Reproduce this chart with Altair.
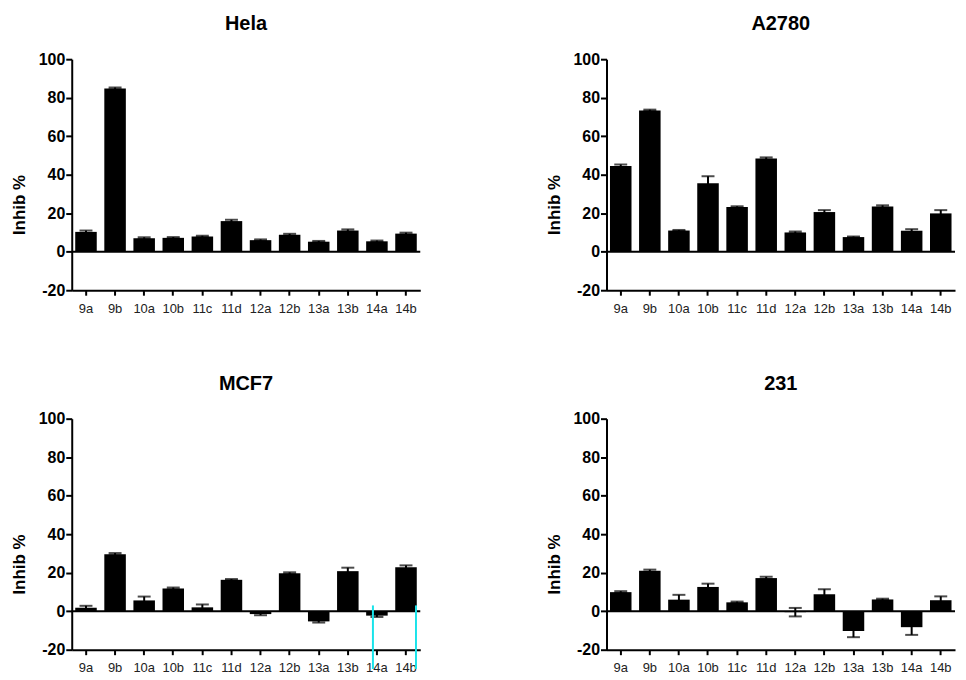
import altair as alt
import pandas as pd

categories = ["9a", "9b", "10a", "10b", "11c", "11d", "12a", "12b", "13a", "13b", "14a", "14b"]

hela_vals = [10.3, 84.8, 7.0, 7.2, 7.9, 15.9, 6.0, 8.8, 5.2, 11.0, 5.4, 9.4]
hela_errs = [0.7, 0.5, 0.5, 0.4, 0.4, 0.7, 0.4, 0.5, 0.4, 0.6, 0.4, 0.5]

a2780_vals = [44.5, 73.4, 11.0, 35.6, 23.2, 48.4, 10.0, 20.6, 7.6, 23.5, 10.9, 19.9]
a2780_errs = [0.8, 0.4, 0.3, 3.6, 0.4, 0.6, 0.5, 1.0, 0.3, 0.6, 0.8, 1.7]

mcf7_vals = [1.8, 29.6, 5.6, 11.8, 2.0, 16.3, -1.5, 19.7, -5.3, 20.8, -2.3, 22.8]
mcf7_errs = [1.0, 0.6, 2.0, 0.5, 1.5, 0.4, 0.6, 0.5, 0.6, 1.8, 0.7, 1.0]

mda231_vals = [9.9, 21.0, 6.0, 12.6, 4.6, 17.2, -0.5, 8.8, -10.3, 6.1, -8.3, 5.7]
mda231_errs = [0.5, 0.6, 2.5, 1.7, 0.4, 0.7, 2.2, 2.6, 3.2, 0.4, 4.0, 2.0]

y_ticks = [-20, 0, 20, 40, 60, 80, 100]

# screenshot artefact: two cyan vertical lines in the MCF7 panel
mcf7_marker_cats = ["14a", "14b"]
mcf7_marker_offsets = [-4, 10]

FONT = "Liberation Sans"

x_axis = alt.Axis(
    title=None,
    labelAngle=0,
    labelFont=FONT,
    labelFontSize=13,
    labelColor="#222222",
    labelPadding=7,
    labelOverlap=False,
    tickSize=5,
)
y_axis = alt.Axis(
    values=y_ticks,
    tickCount=7,
    labelExpr="'' + datum.value",
    labelOverlap=False,
    title="Inhib %",
    titleFont=FONT,
    titleFontSize=17,
    titleFontWeight="bold",
    titleColor="black",
    titleX=-43,
    titleY=146,
    labelFont=FONT,
    labelFontSize=16,
    labelFontWeight="bold",
    labelColor="black",
    labelPadding=1,
    tickSize=6,
)
x_scale = alt.Scale(domain=categories, paddingInner=0.26, paddingOuter=0.12)
y_scale = alt.Scale(domain=[-20, 100], nice=False)


def X():
    return alt.X("cat:N", sort=categories, scale=x_scale, axis=x_axis)


def Y(field):
    return alt.Y(field, scale=y_scale, axis=y_axis)


def make_panel(title, vals, errs, markers=None):
    df = pd.DataFrame({"cat": categories, "val": vals, "err": errs})
    df["lo"] = df["val"] - df["err"]
    df["hi"] = df["val"] + df["err"]
    base = alt.Chart(df)
    bars = base.mark_bar(color="black").encode(x=X(), y=Y("val:Q"))
    stems = base.mark_rule(color="black", strokeWidth=2).encode(x=X(), y=Y("lo:Q"), y2="hi:Q")
    caps_hi = base.mark_tick(color="black", thickness=2, size=13).encode(x=X(), y=Y("hi:Q"))
    caps_lo = base.mark_tick(color="black", thickness=2, size=13).encode(x=X(), y=Y("lo:Q"))
    zero = alt.Chart(pd.DataFrame({"z": [0]})).mark_rule(color="black", strokeWidth=2).encode(y=Y("z:Q"))
    layers = [bars, stems, caps_hi, caps_lo, zero]
    if markers:
        for cat, off in markers:
            m = alt.Chart(pd.DataFrame({"cat": [cat], "top": [3], "bot": [-30]})).mark_rule(
                color="#19e3ea", strokeWidth=2, xOffset=off
            ).encode(x=X(), y=Y("top:Q"), y2="bot:Q")
            layers.append(m)
    return alt.layer(*layers).properties(
        width=350,
        height=232,
        title=alt.TitleParams(
            text=title,
            font=FONT,
            fontSize=20,
            fontWeight="bold",
            color="black",
            anchor="middle",
            frame="group",
            offset=17,
        ),
    )


p1 = make_panel("Hela", hela_vals, hela_errs)
p2 = make_panel("A2780", a2780_vals, a2780_errs)
p3 = make_panel("MCF7", mcf7_vals, mcf7_errs, markers=list(zip(mcf7_marker_cats, mcf7_marker_offsets)))
p4 = make_panel("231", mda231_vals, mda231_errs)

chart = (
    alt.vconcat(
        alt.hconcat(p1, p2, spacing=125),
        alt.hconcat(p3, p4, spacing=125),
        spacing=59,
    )
    .properties(padding={"left": 3, "top": 5, "right": 2, "bottom": 0}, background="white")
    .configure_axis(
        grid=False,
        domainColor="black",
        domainWidth=2,
        tickColor="black",
        tickWidth=2,
    )
    .configure_view(stroke=None)
)

chart.save("out.html", embed_options={"renderer": "svg", "actions": False})
